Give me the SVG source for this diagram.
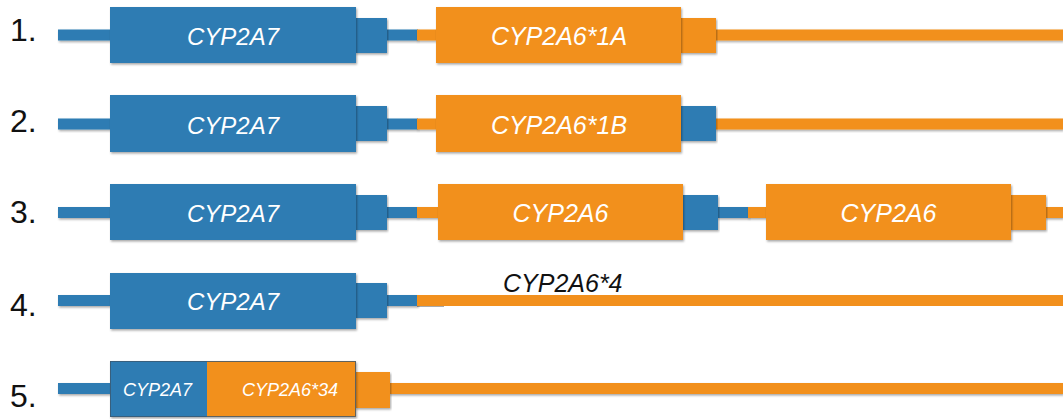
<svg xmlns="http://www.w3.org/2000/svg" width="1063" height="419" viewBox="0 0 1063 419">
<defs>
<filter id="sh" x="-5%" y="-20%" width="110%" height="150%">
<feDropShadow dx="1" dy="1.5" stdDeviation="1" flood-color="#000" flood-opacity="0.35"/>
</filter>
</defs>
<style>
.b{fill:#2e7cb3}
.o{fill:#f2901d}
.s{filter:url(#sh)}
.t{font-family:"Liberation Sans",Arial,sans-serif;font-style:italic;fill:#fff;font-size:24px;text-anchor:middle}
.w{font-size:25px}
.ts{font-size:18px}
.n{font-family:"Liberation Sans",Arial,sans-serif;font-size:32px;fill:#111}
.k{font-family:"Liberation Sans",Arial,sans-serif;font-style:italic;font-size:25px;fill:#111}
</style>
<rect width="1063" height="419" fill="#fff"/>
<g id="labels">
<text class="n" x="10" y="41">1.</text>
<text class="n" x="10" y="132">2.</text>
<text class="n" x="10" y="223">3.</text>
<text class="n" x="10" y="316">4.</text>
<text class="n" x="10" y="407">5.</text>
</g>
<g id="connectors">
<rect class="b s" x="58" y="29.5" width="53" height="11"/>
<rect class="b s" x="386" y="29.5" width="32" height="11"/>
<rect class="o s" x="417" y="29.5" width="20" height="11"/>
<rect class="o s" x="715" y="29.5" width="348" height="11"/>
<rect class="b s" x="58" y="118.5" width="53" height="11"/>
<rect class="b s" x="386" y="118.5" width="32" height="11"/>
<rect class="o s" x="417" y="118.5" width="20" height="11"/>
<rect class="o s" x="715" y="118.5" width="348" height="11"/>
<rect class="b s" x="58" y="207" width="53" height="11"/>
<rect class="b s" x="386" y="207" width="32" height="11"/>
<rect class="o s" x="417" y="207" width="22" height="11"/>
<rect class="b s" x="717" y="207" width="32" height="11"/>
<rect class="o s" x="748" y="207" width="19" height="11"/>
<rect class="o s" x="1045" y="207" width="18" height="11"/>
<rect class="b s" x="58" y="295" width="53" height="11"/>
<rect x="417" y="305" width="27" height="1.5" fill="#555"/>
<rect class="b s" x="386" y="295" width="32" height="11"/>
<rect class="o" x="417" y="295" width="646" height="11"/>
<rect class="b s" x="58" y="383" width="53" height="11"/>
<rect class="o s" x="389" y="383" width="674" height="11"/>
</g>
<g id="r1-cyp2a7">
<rect class="b s" x="355" y="18" width="32" height="35"/>
<rect class="b s" x="110" y="7" width="246" height="56"/>
<text class="t" x="233" y="45">CYP2A7</text>
</g>
<g id="r1-cyp2a6-1a">
<rect class="o s" x="680" y="18" width="36" height="35"/>
<rect class="o s" x="436" y="7" width="245" height="56"/>
<text class="t w" x="559" y="45">CYP2A6*1A</text>
</g>
<g id="r2-cyp2a7">
<rect class="b s" x="355" y="106" width="32" height="35"/>
<rect class="b s" x="110" y="95" width="246" height="57"/>
<text class="t" x="233" y="134">CYP2A7</text>
</g>
<g id="r2-cyp2a6-1b">
<rect class="b s" x="680" y="106" width="36" height="35"/>
<rect class="o s" x="436" y="95" width="245" height="57"/>
<text class="t w" x="559" y="134">CYP2A6*1B</text>
</g>
<g id="r3-cyp2a7">
<rect class="b s" x="355" y="195" width="32" height="35"/>
<rect class="b s" x="110" y="184" width="246" height="56"/>
<text class="t" x="233" y="222">CYP2A7</text>
</g>
<g id="r3-cyp2a6-a">
<rect class="b s" x="682" y="195" width="36" height="35"/>
<rect class="o s" x="438" y="184" width="245" height="56"/>
<text class="t w" x="560.5" y="222">CYP2A6</text>
</g>
<g id="r3-cyp2a6-b">
<rect class="o s" x="1010" y="195" width="36" height="35"/>
<rect class="o s" x="766" y="184" width="245" height="56"/>
<text class="t w" x="888.5" y="222">CYP2A6</text>
</g>
<g id="r4-cyp2a7">
<rect class="b s" x="355" y="283" width="32" height="35"/>
<rect class="b s" x="110" y="273" width="246" height="56"/>
<text class="t" x="233" y="310">CYP2A7</text>
</g>
<g id="r4-cyp2a6-4">
<text class="k" x="503" y="292">CYP2A6*4</text>
</g>
<g id="r5-hybrid">
<rect class="o s" x="355" y="372" width="35" height="36"/>
<g class="s">
<rect class="b" x="110" y="361" width="97" height="56"/>
<rect class="o" x="207" y="361" width="149" height="56"/>
<rect x="110.5" y="361.5" width="245" height="55" fill="none" stroke="#3a5870" stroke-width="0.8"/>
</g>
<text class="t ts" x="157.5" y="396">CYP2A7</text>
<text class="t ts" x="290" y="396">CYP2A6*34</text>
</g>
</svg>
